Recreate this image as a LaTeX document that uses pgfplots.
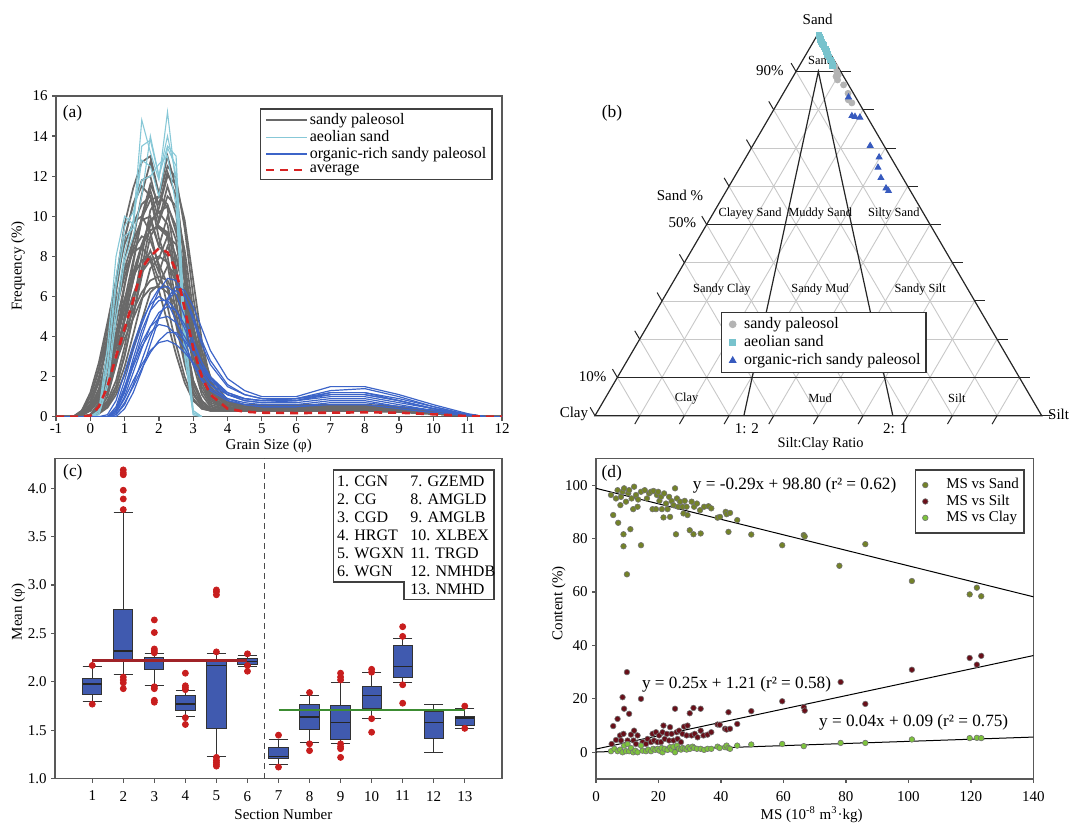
\documentclass[border=0pt]{standalone}
\usepackage{fontspec}
\setmainfont{Liberation Serif}
\usepackage{pgfplots}
\usepackage{pgfplotstable}
\pgfplotsset{compat=1.18}
\usepgfplotslibrary{statistics}

\newcommand{\fz}[1]{\fontsize{#1}{#1}\selectfont}

\definecolor{cgray}{RGB}{105,105,105}
\definecolor{caeol}{RGB}{135,200,215}
\definecolor{corg}{RGB}{60,100,200}
\definecolor{cavg}{RGB}{215,35,35}
\definecolor{cbox}{RGB}{64,90,175}
\definecolor{cout}{RGB}{200,30,30}
\definecolor{cline}{RGB}{160,35,40}
\definecolor{cgreen}{RGB}{60,140,50}
\definecolor{csand}{RGB}{115,130,40}
\definecolor{csilt}{RGB}{105,15,25}
\definecolor{cclay}{RGB}{125,195,60}
\definecolor{tgray}{RGB}{180,180,180}
\definecolor{tsq}{RGB}{120,195,205}
\definecolor{ttri}{RGB}{55,90,190}
\definecolor{tgrid}{RGB}{200,200,200}

\pgfplotsset{
  panel/.style={
    anchor=south west, scale only axis,
    axis line style={black!65, line width=0.6pt},
    tick style={black!65, line width=0.6pt},
    tick align=outside, major tick length=2pt,
    xtick pos=left, ytick pos=left,
    tick label style={font=\fz{7.5}},
    yticklabel style={inner sep=2pt},
    label style={font=\fz{7.5}},
    /pgf/number format/assume math mode=true,
  },
}

% grain size curves, one row per curve (transposed below)
\pgfplotstableread{
name c1 c2 c3 c4 c5 c6 c7 c8 c9 c10 c11 c12 c13 c14 c15 c16 c17 c18 c19 c20 c21 c22 c23 c24 c25 c26 c27 c28 c29
x -1 -0.5 -0.25 0 0.25 0.5 0.75 1 1.25 1.5 1.75 2 2.25 2.5 2.75 3 3.25 3.5 4 4.5 5 6 7 8 9 10 11 11.5 12
g1 0 0 0 0.1 0.7 1.8 3.9 6.5 8.8 11.1 12.7 11.1 13.0 11.4 7.5 3.9 1.7 0.8 0.4 0.35 0.3 0.3 0.3 0.3 0.25 0.15 0.05 0 0
g2 0 0 0 0.1 0.6 1.6 3.5 5.8 7.8 9.8 11.3 9.8 11.5 10.1 6.7 3.5 1.5 0.7 0.4 0.4 0.35 0.35 0.35 0.35 0.3 0.2 0.05 0 0
g3 0 0 0 0.1 0.5 1.4 3.0 5.0 6.8 8.5 9.8 8.5 10.0 8.8 5.8 3.0 1.3 0.6 0.35 0.4 0.4 0.4 0.4 0.4 0.35 0.2 0.06 0 0
g4 0 0 0.1 0.6 1.7 3.6 6.2 8.9 10.6 11.8 12.0 10.2 9.6 7.0 3.8 1.7 0.7 0.4 0.3 0.3 0.3 0.3 0.3 0.3 0.25 0.15 0.05 0 0
g5 0 0 0.1 0.5 1.4 3.0 5.2 7.4 8.8 9.8 10.0 8.5 8.0 5.8 3.2 1.4 0.6 0.35 0.3 0.35 0.35 0.35 0.35 0.35 0.3 0.2 0.05 0 0
g6 0 0 0 0 0.3 0.8 1.8 3.5 5.6 8.0 10.3 11.0 12.5 11.9 9.4 6.0 3.3 1.5 0.5 0.35 0.3 0.3 0.3 0.3 0.25 0.15 0.05 0 0
g7 0 0 0 0 0.2 0.7 1.5 3.1 5.0 7.0 9.0 9.7 11.0 10.5 8.3 5.3 2.9 1.3 0.45 0.4 0.35 0.35 0.35 0.35 0.3 0.2 0.05 0 0
g8 0 0 0 0 0.2 0.5 1.3 2.5 4.1 5.8 7.4 7.9 9.0 8.6 6.8 4.3 2.3 1.1 0.4 0.4 0.4 0.45 0.45 0.45 0.4 0.25 0.08 0 0
g9 0 0 0.1 0.4 1.1 2.4 4.0 5.7 7.2 8.6 9.3 9.5 9.1 8.0 6.3 4.4 2.9 1.7 0.7 0.5 0.45 0.45 0.45 0.45 0.4 0.25 0.08 0 0
g10 0 0 0.1 0.3 1.0 2.0 3.4 4.8 6.1 7.2 7.8 8.0 7.7 6.7 5.3 3.7 2.4 1.4 0.6 0.5 0.5 0.5 0.5 0.5 0.45 0.3 0.1 0 0
g11 0 0 0.1 0.3 0.8 1.6 2.7 3.9 4.9 5.9 6.4 6.5 6.2 5.5 4.3 3.0 2.0 1.2 0.6 0.6 0.6 0.6 0.6 0.6 0.5 0.3 0.1 0 0
g12 0 0 0.3 1.2 2.7 4.7 6.8 8.6 9.7 10.0 9.2 7.4 5.5 3.6 2.0 0.9 0.4 0.3 0.3 0.3 0.3 0.3 0.3 0.3 0.25 0.15 0.05 0 0
g13 0 0 0.3 1.0 2.3 4.0 5.8 7.3 8.2 8.5 7.8 6.3 4.7 3.1 1.7 0.8 0.4 0.3 0.3 0.35 0.35 0.35 0.35 0.35 0.3 0.2 0.05 0 0
g14 0 0 0 0.1 0.4 1.2 2.6 4.3 5.8 7.2 8.3 7.2 8.5 7.5 4.9 2.6 1.1 0.5 0.35 0.4 0.45 0.45 0.45 0.45 0.4 0.25 0.08 0 0
g15 0 0 0.1 0.4 1.1 2.4 4.2 5.9 7.0 7.8 8.0 6.8 6.4 4.6 2.6 1.1 0.5 0.35 0.3 0.4 0.4 0.4 0.4 0.4 0.35 0.2 0.06 0 0
g16 0 0 0 0 0.15 0.45 1.1 2.1 3.4 4.8 6.2 6.6 7.5 7.1 5.6 3.6 2.0 0.9 0.4 0.5 0.5 0.5 0.5 0.5 0.45 0.3 0.1 0 0
g17 0 0 0.1 0.65 1.8 3.9 6.8 9.6 11.4 12.7 13.0 11.1 10.4 7.5 4.2 1.8 0.8 0.4 0.3 0.3 0.3 0.3 0.3 0.3 0.25 0.15 0.05 0 0
g18 0 0 0.1 0.4 1.3 2.8 4.6 6.6 8.4 9.9 10.8 11.0 10.6 9.2 7.3 5.1 3.3 2.0 0.8 0.5 0.45 0.45 0.45 0.45 0.4 0.25 0.08 0 0
g19 0 0 0 0 0.3 1.0 2.6 5.0 7.6 10.0 11.6 10.6 12.2 11.0 7.8 4.4 2.0 0.9 0.4 0.35 0.3 0.3 0.3 0.3 0.25 0.15 0.05 0 0
g20 0 0 0.05 0.4 1.3 3.0 5.4 7.8 9.6 10.6 11.0 9.4 9.0 6.6 3.8 1.8 0.8 0.4 0.3 0.35 0.3 0.3 0.3 0.3 0.25 0.15 0.05 0 0
g21 0 0 0.2 0.8 2.0 3.6 5.4 7.0 8.3 9.0 8.8 7.6 6.6 4.8 3.0 1.6 0.8 0.4 0.3 0.35 0.35 0.35 0.35 0.35 0.3 0.2 0.05 0 0
g22 0 0 0 0.1 0.5 1.3 2.8 4.8 6.8 8.6 9.8 10.2 10.5 9.5 7.2 4.6 2.6 1.3 0.5 0.4 0.4 0.4 0.4 0.4 0.35 0.2 0.06 0 0
g23 0 0 0.1 0.4 1.0 1.9 3.0 4.2 5.3 6.2 6.8 7.0 6.8 6.0 4.9 3.6 2.4 1.5 0.7 0.6 0.55 0.55 0.55 0.55 0.5 0.3 0.1 0 0
g24 0 0 0 0 0.2 0.6 1.5 3.0 5.0 7.4 9.6 10.4 12.0 11.6 9.8 6.8 3.8 1.8 0.6 0.4 0.35 0.35 0.35 0.35 0.3 0.2 0.05 0 0
g25 0 0 0.2 1.0 2.4 4.4 6.7 8.9 10.6 11.5 11.0 8.9 7.6 5.2 2.8 1.2 0.5 0.3 0.3 0.3 0.3 0.3 0.3 0.3 0.25 0.15 0.05 0 0
g26 0 0 0.05 0.3 0.9 2.0 3.6 5.4 7.1 8.5 9.3 9.5 9.2 8.0 6.0 3.8 2.0 1.0 0.45 0.4 0.4 0.4 0.4 0.4 0.35 0.2 0.06 0 0
a1 nan nan nan 0 0.3 3.5 8.0 10.0 9.6 14.8 13.2 11.8 15.2 11.5 3.0 0.1 0 nan nan nan nan nan nan nan nan nan nan nan nan
a2 nan nan nan 0 0.2 2.5 6.5 9.0 9.4 13.5 13.8 12.0 14.0 12.0 3.8 0.2 0 nan nan nan nan nan nan nan nan nan nan nan nan
a3 nan nan nan 0 0.1 1.8 5.5 8.2 9.8 12.8 12.5 11.0 13.4 12.5 4.2 0.3 0 nan nan nan nan nan nan nan nan nan nan nan nan
a4 nan nan nan 0 0.3 2.8 7.0 9.5 10.2 11.8 12.0 12.6 13.0 10.5 3.2 0.1 0 nan nan nan nan nan nan nan nan nan nan nan nan
a5 nan nan nan 0 0.1 1.5 4.8 7.8 9.0 11.0 14.0 12.0 13.5 13.0 4.5 0.3 0 nan nan nan nan nan nan nan nan nan nan nan nan
b1 0 0 0 0 0 0 0.3 1.2 2.6 4.0 5.3 6.3 6.9 6.8 6.0 4.8 3.6 2.6 1.5 1.1 0.9 0.9 1.3 1.4 1.0 0.5 0.1 0 0
b2 0 0 0 0 0 0 0.5 1.8 3.3 4.6 5.7 6.4 6.5 6.1 5.0 3.8 2.7 1.9 1.1 0.8 0.7 0.8 1.2 1.2 0.8 0.4 0.1 0 0
b3 0 0 0 0 0 0 0.1 0.6 1.6 2.8 4.0 5.0 5.8 6.3 6.0 5.0 3.8 2.8 1.6 1.1 0.9 0.8 1.1 1.1 0.8 0.4 0.1 0 0
b4 0 0 0 0 0 0.1 0.8 2.2 3.6 4.8 5.6 6.0 5.7 4.8 3.7 2.6 1.8 1.3 0.8 0.6 0.5 0.5 0.7 0.7 0.5 0.3 0.1 0 0
b5 0 0 0 0 0 0 0.2 1.0 2.2 3.4 4.5 5.2 5.5 5.3 4.6 3.6 2.7 2.0 1.2 0.9 0.8 0.8 1.0 1.0 0.7 0.4 0.1 0 0
b6 0 0 0 0 0 0 0.4 1.5 2.7 3.7 4.5 4.9 5.0 4.7 4.0 3.2 2.4 1.8 1.1 0.8 0.7 0.7 0.9 0.9 0.6 0.3 0.1 0 0
b7 0 0 0 0 0 0 0.3 1.3 2.5 3.5 4.2 4.6 4.5 4.1 3.4 2.6 1.9 1.4 0.9 0.7 0.6 0.6 0.8 0.8 0.5 0.3 0.1 0 0
b8 0 0 0 0 0 0 0.1 0.7 1.5 2.4 3.2 3.8 4.2 4.2 3.8 3.2 2.5 1.9 1.2 0.9 0.8 0.9 1.1 1.1 0.8 0.4 0.1 0 0
b9 0 0 0 0 0 0 0.2 0.9 1.8 2.6 3.3 3.7 3.8 3.6 3.2 2.7 2.1 1.6 1.1 0.9 0.8 0.9 1.2 1.2 0.9 0.5 0.1 0 0
b10 0 0 0 0 0 0 0 0.4 1.2 2.3 3.6 4.9 5.9 6.5 6.3 5.5 4.4 3.3 1.9 1.3 1.0 1.0 1.5 1.5 1.1 0.6 0.15 0 0
b11 0 0 0 0 0 0 0.3 1.4 2.9 4.3 5.3 5.8 5.8 5.3 4.4 3.3 2.3 1.6 0.9 0.6 0.5 0.5 0.6 0.6 0.4 0.2 0.05 0 0
avg 0 0 0 0.05 0.5 1.5 3.0 4.4 5.8 7.4 8.0 8.4 8.2 7.3 5.4 3.4 2.0 1.1 0.4 0.25 0.2 0.18 0.2 0.22 0.2 0.12 0.03 0 0
}\rawA
\pgfplotstabletranspose[colnames from=name]{\tA}{\rawA}

% ternary data: sand %, silt %
\pgfplotstableread{
sand silt
91.3 8.1
90.0 9.1
89.1 9.9
88.7 9.6
87.8 10.4
86.5 12.4
84.3 14.5
82.6 15.4
81.8 16.6
}\tPal
\pgfplotstableread{
sand silt
99.5 0.4
99.0 0.8
98.4 1.3
97.8 1.8
97.2 2.3
97.0 2.6
96.5 3.0
95.9 3.6
95.5 3.9
95.2 4.2
94.5 4.8
93.8 5.5
93.0 6.2
92.3 6.9
91.6 7.4
}\tAeo
\pgfplotstableread{
sand silt
83.3 15.1
78.4 18.3
78.2 19.1
78.0 20.3
70.6 26.3
67.6 29.8
64.9 30.9
62.2 32.9
59.5 35.4
58.8 36.3
}\tOrg

% box plot outliers
\pgfplotstableread{
sec val
1 2.17
1 1.77
2 4.19
2 4.16
2 4.14
2 3.98
2 3.89
2 3.78
2 2.05
2 2.02
2 1.99
2 1.93
3 2.64
3 2.51
3 2.34
3 2.32
3 2.30
3 1.95
3 1.93
3 1.81
3 1.79
4 2.09
4 1.96
4 1.94
4 1.92
4 1.63
4 1.56
5 2.95
5 2.93
5 2.90
5 2.31
5 1.22
5 1.19
5 1.17
5 1.15
5 1.13
6 2.29
6 2.17
6 2.11
7 1.45
7 1.12
8 1.89
8 1.36
8 1.29
9 2.09
9 2.05
9 2.02
9 1.36
9 1.33
9 1.31
9 1.22
10 2.13
10 2.10
10 1.62
10 1.48
11 2.57
11 2.47
11 1.97
11 1.78
13 1.75
13 1.52
}\tOut

% MS vs content
\pgfplotstableread{
ms c
4.8 96.3
5.5 88.8
6.4 95.0
6.9 98.1
7.1 85.9
7.8 92.5
8.0 95.6
8.5 97.5
8.8 81.6
8.8 77.1
9.0 98.8
9.6 93.8
9.9 66.6
10.3 96.9
10.6 98.1
11.0 83.5
11.4 95.0
11.9 91.0
12.2 99.4
12.8 96.3
13.3 91.9
13.5 94.6
14.4 77.5
14.4 97.5
15.6 98.1
16.3 95.0
17.0 96.9
17.6 97.5
18.1 91.0
18.4 97.8
19.2 91.0
19.5 96.3
19.9 97.5
20.3 94.1
20.8 95.6
21.1 91.0
21.6 87.9
21.8 96.9
22.4 93.1
22.9 91.0
23.4 95.6
23.7 88.1
24.2 94.0
24.8 92.5
25.3 98.8
25.6 81.6
25.9 95.0
26.3 91.9
26.9 93.8
27.7 91.9
28.0 89.4
28.4 94.1
29.0 91.9
29.3 88.8
30.0 83.1
30.6 93.8
31.2 81.6
31.4 91.9
32.3 93.1
33.3 90.6
33.5 81.9
34.6 91.9
36.0 92.1
36.9 91.3
38.9 87.8
39.7 88.1
41.5 90.0
41.8 89.1
42.4 82.5
42.9 89.6
45.2 86.9
49.7 81.5
59.6 77.5
66.5 81.3
66.8 80.8
77.9 69.8
86.2 77.9
101.1 64.1
119.6 59.1
121.9 61.6
123.3 58.4
}\tSand
\pgfplotstableread{
ms c
5.0 3.1
5.5 9.8
6.4 4.6
6.9 12.5
7.7 6.3
8.0 4.4
8.5 20.6
8.8 6.9
9.0 16.3
9.9 30.0
10.1 4.4
10.6 14.4
11.2 6.6
12.0 4.4
12.2 8.1
12.8 3.1
13.3 6.3
14.4 20.0
14.9 3.8
16.0 3.1
16.5 5.0
17.6 3.8
18.1 6.9
18.6 4.4
19.2 7.5
19.7 3.8
20.2 6.3
20.8 3.8
21.3 7.5
21.6 10.0
22.0 5.0
22.7 6.9
23.4 4.4
23.7 9.4
24.2 6.9
24.8 4.4
25.3 16.3
25.8 7.5
26.1 5.0
26.6 8.1
27.2 3.8
27.7 6.9
28.2 9.6
29.0 6.3
29.3 10.0
30.0 14.6
30.6 6.3
31.2 16.6
31.6 6.9
32.5 5.6
33.5 16.3
33.5 8.1
34.4 6.3
35.7 6.6
36.9 7.5
38.9 10.4
39.6 10.3
41.3 8.8
41.8 8.5
42.4 15.0
42.9 8.8
45.2 10.6
49.7 15.4
59.6 19.1
66.5 16.9
66.8 15.6
78.3 26.3
86.2 18.1
101.1 30.9
119.6 35.3
121.9 32.8
123.3 36.1
}\tSilt
\pgfplotstableread{
ms c
4.8 0.4
5.9 1.3
6.9 0.4
7.7 1.0
8.5 0.0
9.0 2.5
9.6 0.4
10.1 3.1
10.6 0.4
11.2 1.6
11.9 0.0
12.6 0.6
13.3 0.0
14.4 2.5
14.9 0.6
16.0 0.4
16.7 1.0
17.6 0.4
18.3 1.3
19.0 0.9
19.7 1.3
20.3 0.6
21.0 1.6
21.3 0.0
22.0 1.3
22.9 0.9
23.7 1.9
24.2 1.0
24.8 2.1
25.3 0.0
25.9 2.5
26.5 1.3
27.2 1.0
27.7 1.6
28.4 1.3
29.0 1.0
29.5 1.9
30.1 1.3
30.9 2.1
31.4 1.6
32.3 1.3
33.5 1.3
34.6 0.9
35.7 1.3
36.9 1.3
38.9 2.1
39.6 1.6
41.3 1.9
41.8 2.5
42.4 1.6
42.9 1.3
45.2 2.5
49.7 2.9
59.6 3.1
66.5 2.3
78.3 3.5
86.2 3.5
101.1 4.8
119.6 5.3
121.9 5.4
123.3 5.3
}\tClay

\begin{document}
\begin{tikzpicture}
\useasboundingbox (0,0) rectangle (535pt,411.5pt);

% ---------------- (a) grain size distribution
\begin{axis}[panel, at={(28pt,203.15pt)}, width=223pt, height=160.35pt,
  xmin=-1, xmax=12, ymin=0, ymax=16,
  xtick={-1,0,...,12}, ytick={0,2,...,16},
  xticklabel style={inner sep=1.3pt},
  xlabel={Grain Size (φ)}, ylabel={Frequency (\%)},
  xlabel style={at={(axis description cs:0.477,-0.09)}, anchor=center},
  ylabel style={at={(axis description cs:-0.085,0.47)}, anchor=center},
  legend cell align=left,
  legend style={at={(axis description cs:0.457,0.9626)}, anchor=north west,
    draw=black!75, line width=0.8pt, fill=white, font=\fz{8},
    inner xsep=2.2pt, inner ysep=1.5pt, row sep=0.3pt,
    nodes={inner sep=0.6pt}},
  legend image code/.code={\draw[#1] (0pt,0pt) -- (20.5pt,0pt);},
]
\pgfplotsinvokeforeach{1,...,26}{
  \addplot[cgray, line width=0.85pt, forget plot] table[x=x, y=g#1]{\tA};
}
\pgfplotsinvokeforeach{1,...,5}{
  \addplot[caeol, line width=0.55pt, forget plot] table[x=x, y=a#1]{\tA};
}
\pgfplotsinvokeforeach{1,...,11}{
  \addplot[corg, line width=0.6pt, forget plot] table[x=x, y=b#1]{\tA};
}
\addplot[cavg, line width=1.3pt, dash pattern=on 4pt off 3pt, forget plot] table[x=x, y=avg]{\tA};
\addlegendimage{cgray, line width=0.6pt}
\addlegendentry{sandy paleosol}
\addlegendimage{caeol, line width=0.6pt}
\addlegendentry{aeolian sand}
\addlegendimage{corg, line width=1pt}
\addlegendentry{organic-rich sandy paleosol}
\addlegendimage{cavg, line width=1.3pt, dash pattern=on 4pt off 3pt}
\addlegendentry{average}
\node[font=\fz{8.7}] at (rel axis cs:0.037,0.946) {(a)};
\end{axis}

% ---------------- (b) ternary diagram (sand top, clay left, silt right)
\begin{scope}[shift={(297.5pt,203.65pt)}, x=2.2335pt, y=2.2079pt]
  \foreach \t in {10,20,...,90} {
    \draw[tgrid, line width=0.45pt] (\t,0) -- ({50+\t/2},{86.6-0.866*\t});
    \draw[tgrid, line width=0.45pt] ({100-\t},0) -- ({(100-\t)/2},{0.866*(100-\t)});
  }
  \foreach \s in {20,30,40,60,70,80} {
    \draw[tgrid, line width=0.45pt] ({\s/2},{0.866*\s}) -- ({100-\s/2},{0.866*\s});
  }
  \foreach \s in {10,50,90} {
    \draw[black!85, line width=0.6pt] ({\s/2},{0.866*\s}) -- ({100-\s/2},{0.866*\s});
  }
  \foreach \s in {0,10,...,90} {
    \draw[black!85, line width=0.5pt] ({100-\s/2},{0.866*\s}) -- ({100-\s/2+2.4},{0.866*\s});
    \draw[black!85, line width=0.5pt] ({\s/2},{0.866*\s}) -- ({\s/2-1.1},{0.866*\s+1.9});
  }
  \foreach \t in {10,20,...,90} {
    \draw[black!85, line width=0.5pt] (\t,0) -- ({\t-1.1},-1.9);
  }
  \draw[black!85, line width=0.6pt] (33.33,0) -- (50,77.94) -- (66.67,0);
  \draw[black!85, line width=0.6pt, line join=miter] (0,0) -- (100,0) -- (50,86.6) -- cycle;
  \begin{scope}[font=\fz{7.5}]
    \node at (49.85,89.8) {Sand};
    \node[anchor=east] at (43.8,78.2) {90\%};
    \node[anchor=east] at (24.2,43.8) {50\%};
    \node[anchor=east] at (4.1,8.8) {10\%};
    \node at (19.0,50) {Sand \%};
    \node[anchor=east, inner sep=1pt] at (-1.0,0.3) {Clay};
    \node[anchor=east, inner sep=0pt] at (106.2,0.2) {Silt};
    \node at (34.0,-3.0) {1: 2};
    \node at (67.2,-3.0) {2: 1};
    \node[font=\fz{7.2}] at (50.5,-6.4) {Silt:Clay Ratio};
    \node[font=\fz{8.7}] at (3.8,68.5) {(b)};
  \end{scope}
  \begin{scope}[font=\fz{6.2}]
    \node at (50.5,80.5) {Sand};
    \node at (34.7,45.8) {Clayey Sand};
    \node at (50.4,45.8) {Muddy Sand};
    \node at (66.9,45.8) {Silty Sand};
    \node at (28.4,28.6) {Sandy Clay};
    \node at (50.4,28.6) {Sandy Mud};
    \node at (72.8,28.6) {Sandy Silt};
    \node at (20.5,3.9) {Clay};
    \node at (50.4,3.9) {Mud};
    \node at (81.0,3.9) {Silt};
  \end{scope}
\end{scope}

\begin{axis}[at={(297.5pt,203.65pt)}, anchor=south west, scale only axis,
  width=223.35pt, height=191.2pt, xmin=0, xmax=100, ymin=0, ymax=86.6,
  axis lines=none, ticks=none, clip=false,
  legend cell align=left,
  legend style={at={(axis description cs:0.2814,0.272)}, anchor=north west,
    draw=black!80, line width=0.8pt, fill=white, font=\fz{8},
    inner xsep=2.2pt, inner ysep=1.8pt, row sep=0.8pt,
    nodes={inner sep=0.6pt}},
  legend image code/.code={\path (0pt,0pt) (7.7pt,0pt); \draw[#1] plot coordinates {(3pt,0pt)};},
]
\addplot[only marks, mark=*, mark size=1.5pt, tgray, forget plot]
  table[x expr=\thisrow{silt}+0.5*\thisrow{sand}, y expr=0.866*\thisrow{sand}]{\tPal};
\addplot[only marks, mark=square*, mark size=1.4pt, tsq, forget plot]
  table[x expr=\thisrow{silt}+0.5*\thisrow{sand}, y expr=0.866*\thisrow{sand}]{\tAeo};
\addplot[only marks, mark=triangle*, mark size=1.7pt, ttri, forget plot]
  table[x expr=\thisrow{silt}+0.5*\thisrow{sand}, y expr=0.866*\thisrow{sand}]{\tOrg};
\addlegendimage{only marks, mark=*, mark size=1.5pt, tgray}
\addlegendentry{sandy paleosol}
\addlegendimage{only marks, mark=square*, mark size=1.3pt, tsq}
\addlegendentry{aeolian sand}
\addlegendimage{only marks, mark=triangle*, mark size=1.5pt, ttri}
\addlegendentry{organic-rich sandy paleosol}
\end{axis}

% ---------------- (c) box plots
\begin{axis}[panel, at={(27.5pt,22.15pt)}, width=223.5pt, height=160.2pt,
  xmin=-0.2, xmax=14.2, ymin=1, ymax=4.31,
  xtick={1,...,13}, ytick={1,1.5,...,4},
  xticklabel style={inner sep=4pt},
  y tick label style={/pgf/number format/.cd, fixed, fixed zerofill, precision=1},
  xlabel={Section Number}, ylabel={Mean (φ)},
  xlabel style={at={(axis description cs:0.511,-0.11)}, anchor=center},
  ylabel style={at={(axis description cs:-0.082,0.521)}, anchor=center},
  boxplot/draw direction=y,
  boxplot/box extend=0.62, boxplot/whisker extend=0.62,
  boxplot/every median/.style={black!85, line width=0.8pt},
  bx/.style={draw=black!80, fill=cbox, line width=0.5pt},
]
\draw[black!70, line width=0.6pt, dash pattern=on 3pt off 2pt] (6.55,1) -- (6.55,4.31);
\addplot[bx, boxplot prepared={draw position=1, lower whisker=1.80, lower quartile=1.87, median=1.98, upper quartile=2.03, upper whisker=2.16}] coordinates {};
\addplot[bx, boxplot prepared={draw position=2, lower whisker=2.08, lower quartile=2.22, median=2.32, upper quartile=2.75, upper whisker=3.75}] coordinates {};
\addplot[bx, boxplot prepared={draw position=3, lower whisker=1.96, lower quartile=2.13, median=2.22, upper quartile=2.25, upper whisker=2.29}] coordinates {};
\addplot[bx, boxplot prepared={draw position=4, lower whisker=1.645, lower quartile=1.70, median=1.77, upper quartile=1.855, upper whisker=1.91}] coordinates {};
\addplot[bx, boxplot prepared={draw position=5, lower whisker=1.23, lower quartile=1.52, median=2.17, upper quartile=2.23, upper whisker=2.29}] coordinates {};
\addplot[bx, boxplot prepared={draw position=6, lower whisker=2.16, lower quartile=2.18, median=2.21, upper quartile=2.24, upper whisker=2.27}] coordinates {};
\addplot[bx, boxplot prepared={draw position=7, lower whisker=1.145, lower quartile=1.21, median=1.23, upper quartile=1.32, upper whisker=1.40}] coordinates {};
\addplot[bx, boxplot prepared={draw position=8, lower whisker=1.37, lower quartile=1.51, median=1.64, upper quartile=1.77, upper whisker=1.86}] coordinates {};
\addplot[bx, boxplot prepared={draw position=9, lower whisker=1.36, lower quartile=1.40, median=1.58, upper quartile=1.76, upper whisker=1.99}] coordinates {};
\addplot[bx, boxplot prepared={draw position=10, lower whisker=1.62, lower quartile=1.73, median=1.86, upper quartile=1.95, upper whisker=2.10}] coordinates {};
\addplot[bx, boxplot prepared={draw position=11, lower whisker=1.99, lower quartile=2.05, median=2.16, upper quartile=2.38, upper whisker=2.45}] coordinates {};
\addplot[bx, boxplot prepared={draw position=12, lower whisker=1.27, lower quartile=1.42, median=1.58, upper quartile=1.69, upper whisker=1.77}] coordinates {};
\addplot[bx, boxplot prepared={draw position=13, lower whisker=1.52, lower quartile=1.55, median=1.63, upper quartile=1.645, upper whisker=1.72}] coordinates {};
\addplot[cline, line width=1.1pt] coordinates {(1,2.22) (6,2.22)};
\addplot[cgreen, line width=1.1pt] coordinates {(7,1.71) (13,1.71)};
\addplot[only marks, mark=*, mark size=1.5pt, cout] table[x=sec, y=val]{\tOut};
% section legend
\draw[black!75, line width=0.8pt, fill=white] (rel axis cs:0.6226,0.9632) -- (rel axis cs:0.9825,0.9632) -- (rel axis cs:0.9825,0.5598) -- (rel axis cs:0.7808,0.5598) -- (rel axis cs:0.7808,0.6147) -- (rel axis cs:0.6226,0.6147) -- cycle;
\begin{scope}[every node/.style={anchor=west, font=\fz{8}, inner sep=0pt}]
\node at (rel axis cs:0.630,0.9289) {1. CGN};
\node at (rel axis cs:0.630,0.8727) {2. CG};
\node at (rel axis cs:0.630,0.8166) {3. CGD};
\node at (rel axis cs:0.630,0.7604) {4. HRGT};
\node at (rel axis cs:0.630,0.7033) {5. WGXN};
\node at (rel axis cs:0.630,0.6459) {6. WGN};
\node at (rel axis cs:0.794,0.9289) {7. GZEMD};
\node at (rel axis cs:0.794,0.8727) {8. AMGLD};
\node at (rel axis cs:0.794,0.8166) {9. AMGLB};
\node at (rel axis cs:0.794,0.7604) {10. XLBEX};
\node at (rel axis cs:0.794,0.7033) {11. TRGD};
\node at (rel axis cs:0.794,0.6459) {12. NMHDB};
\node at (rel axis cs:0.794,0.5910) {13. NMHD};
\end{scope}
\node[font=\fz{8.7}] at (rel axis cs:0.04,0.955) {(c)};
\end{axis}

% ---------------- (d) MS vs content
\begin{axis}[panel, at={(298pt,22pt)}, width=218.7pt, height=160.3pt,
  xmin=0, xmax=140, ymin=-10, ymax=110,
  xtick={0,20,...,140}, ytick={0,20,...,100},
  xticklabel style={inner sep=4pt},
  xlabel={MS (10\textsuperscript{-8} m\textsuperscript{3}·kg)}, ylabel={Content (\%)},
  xlabel style={at={(axis description cs:0.493,-0.11)}, anchor=center},
  ylabel style={at={(axis description cs:-0.085,0.548)}, anchor=center},
  legend cell align=left,
  legend style={at={(axis description cs:0.7286,0.9658)}, anchor=north west,
    draw=black!75, line width=0.8pt, fill=white, font=\fz{7.5},
    inner xsep=2pt, inner ysep=3.5pt, row sep=0.3pt,
    nodes={inner sep=0.6pt}},
  legend image code/.code={\path (0pt,0pt) (12pt,0pt); \draw[#1] plot coordinates {(2.5pt,0pt)};},
  pt/.style={only marks, mark=*, mark size=1.4pt, mark options={fill=#1, draw=black!55, line width=0.3pt}},
]
\addplot[black, line width=0.5pt, forget plot] coordinates {(0,98.8) (140,58.2)};
\addplot[black, line width=0.5pt, forget plot] coordinates {(0,1.21) (140,36.2)};
\addplot[black, line width=0.5pt, forget plot] coordinates {(0,0.09) (140,5.69)};
\addplot[pt=csand] table[x=ms, y=c]{\tSand};
\addlegendentry{MS vs Sand}
\addplot[pt=csilt] table[x=ms, y=c]{\tSilt};
\addlegendentry{MS vs Silt}
\addplot[pt=cclay] table[x=ms, y=c]{\tClay};
\addlegendentry{MS vs Clay}
\begin{scope}[every node/.style={anchor=west, font=\fz{8.6}, inner sep=0pt}]
\node at (30.9,100) {y = -0.29x + 98.80 (r² = 0.62)};
\node at (14.6,25.4) {y = 0.25x + 1.21 (r² = 0.58)};
\node at (71.3,11.25) {y = 0.04x + 0.09 (r² = 0.75)};
\end{scope}
\node[font=\fz{8.7}] at (rel axis cs:0.036,0.955) {(d)};
\end{axis}
\end{tikzpicture}
\end{document}
